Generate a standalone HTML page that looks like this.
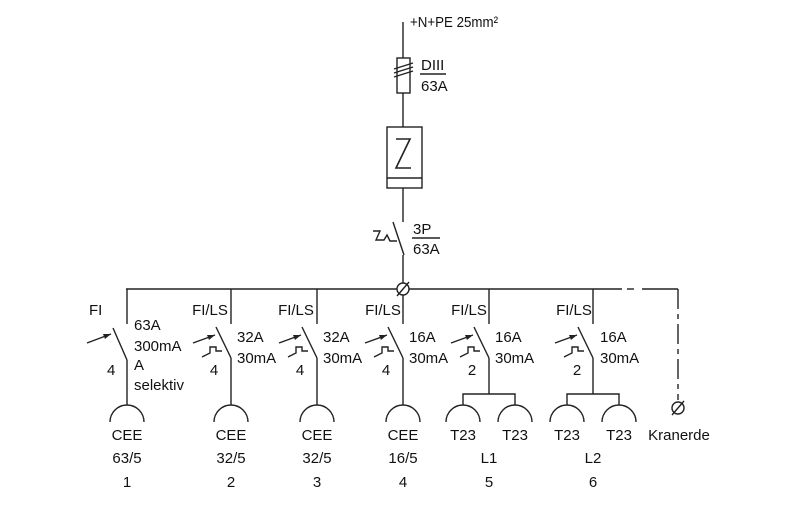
<!DOCTYPE html>
<html><head><meta charset="utf-8"><style>
html,body{margin:0;padding:0;background:#fff}
svg{display:block}
text{font-family:"Liberation Sans Narrow","Liberation Sans",sans-serif;font-size:15px;fill:#111}
</style></head><body>
<svg width="800" height="511" viewBox="0 0 800 511" xmlns="http://www.w3.org/2000/svg">
<g stroke="#222" stroke-width="1.4" fill="none">
<line x1="403" y1="22" x2="403" y2="58"/>
<rect x="397" y="58" width="13" height="35"/>
<line x1="394" y1="69" x2="413" y2="63"/>
<line x1="394" y1="73" x2="413" y2="67"/>
<line x1="394" y1="77" x2="413" y2="71"/>
<line x1="403" y1="93" x2="403" y2="127"/>
<rect x="387" y="127" width="35" height="61"/>
<line x1="387" y1="178" x2="422" y2="178"/>
<polyline points="396,139 410,139 396,168 411,168" stroke-width="1.6"/>
<line x1="403" y1="188" x2="403" y2="222"/>
<line x1="393" y1="222" x2="404" y2="255"/>
<line x1="403" y1="255" x2="403" y2="289"/>
<polyline points="373,231 380,231 376,240 384,240 387,235 390,241 397,241"/>
<line x1="420" y1="74" x2="446" y2="74"/>
<line x1="412" y1="238" x2="440" y2="238"/>
<line x1="126" y1="289" x2="622" y2="289"/>
<line x1="627" y1="289" x2="634" y2="289"/>
<line x1="642" y1="289" x2="678" y2="289"/>
<line x1="678" y1="289" x2="678" y2="400" stroke-dasharray="20,5,5,5"/>
<circle cx="403" cy="289" r="6" fill="#fff"/>
<line x1="397" y1="296" x2="409" y2="282"/>
<circle cx="678" cy="408" r="6"/>
<line x1="672" y1="415" x2="684" y2="401"/>
</g>
<g stroke="#222" stroke-width="1.4" fill="none">
<line x1="127" y1="289" x2="127" y2="324"/>
<line x1="113" y1="328" x2="127" y2="360"/>
<line x1="127" y1="360" x2="127" y2="405"/>
<line x1="87" y1="343" x2="111" y2="334"/>
<path d="M110,422 A17,17 0 0 1 144,422"/>
</g>
<g stroke="#222" stroke-width="1.4" fill="none">
<g transform="translate(231,0)">
<line x1="0" y1="289" x2="0" y2="324"/><line x1="-15" y1="327" x2="0" y2="358"/><line x1="0" y1="358" x2="0" y2="405"/>
<line x1="-38" y1="343" x2="-16" y2="335"/><polyline points="-29,357 -21,353 -21,347 -15,347 -15,351 -9,351"/>
<path d="M-17,422 A17,17 0 0 1 17,422"/></g>
<g transform="translate(317,0)">
<line x1="0" y1="289" x2="0" y2="324"/><line x1="-15" y1="327" x2="0" y2="358"/><line x1="0" y1="358" x2="0" y2="405"/>
<line x1="-38" y1="343" x2="-16" y2="335"/><polyline points="-29,357 -21,353 -21,347 -15,347 -15,351 -9,351"/>
<path d="M-17,422 A17,17 0 0 1 17,422"/></g>
<g transform="translate(403,0)">
<line x1="0" y1="295" x2="0" y2="324"/><line x1="-15" y1="327" x2="0" y2="358"/><line x1="0" y1="358" x2="0" y2="405"/>
<line x1="-38" y1="343" x2="-16" y2="335"/><polyline points="-29,357 -21,353 -21,347 -15,347 -15,351 -9,351"/>
<path d="M-17,422 A17,17 0 0 1 17,422"/></g>
<g transform="translate(489,0)">
<line x1="0" y1="289" x2="0" y2="324"/><line x1="-15" y1="327" x2="0" y2="358"/><line x1="0" y1="358" x2="0" y2="394"/>
<line x1="-38" y1="343" x2="-16" y2="335"/><polyline points="-29,357 -21,353 -21,347 -15,347 -15,351 -9,351"/>
<polyline points="-26,405 -26,394 26,394 26,405"/>
<path d="M-43,422 A17,17 0 0 1 -9,422"/><path d="M9,422 A17,17 0 0 1 43,422"/></g>
<g transform="translate(593,0)">
<line x1="0" y1="289" x2="0" y2="324"/><line x1="-15" y1="327" x2="0" y2="358"/><line x1="0" y1="358" x2="0" y2="394"/>
<line x1="-38" y1="343" x2="-16" y2="335"/><polyline points="-29,357 -21,353 -21,347 -15,347 -15,351 -9,351"/>
<polyline points="-26,405 -26,394 26,394 26,405"/>
<path d="M-43,422 A17,17 0 0 1 -9,422"/><path d="M9,422 A17,17 0 0 1 43,422"/></g>
</g>
<g fill="#222" stroke="none">
<polygon points="111,334 103,334 105,339"/>
<polygon points="215,335 207,335 209,340"/>
<polygon points="301,335 293,335 295,340"/>
<polygon points="387,335 379,335 381,340"/>
<polygon points="473,335 465,335 467,340"/>
<polygon points="577,335 569,335 571,340"/>
</g>
<text x="410" y="27" textLength="88" lengthAdjust="spacingAndGlyphs">+N+PE 25mm²</text>
<text x="421" y="70">DIII</text>
<text x="421" y="91">63A</text>
<text x="413" y="234">3P</text>
<text x="413" y="254">63A</text>
<text x="89" y="315">FI</text>
<text x="134" y="330">63A</text>
<text x="134" y="351">300mA</text>
<text x="134" y="370">A</text>
<text x="134" y="390">selektiv</text>
<text x="107" y="375">4</text>
<g text-anchor="middle">
<text x="210" y="315">FI/LS</text><text x="296" y="315">FI/LS</text><text x="383" y="315">FI/LS</text><text x="469" y="315">FI/LS</text><text x="574" y="315">FI/LS</text>
<text x="214" y="375">4</text><text x="300" y="375">4</text><text x="386" y="375">4</text><text x="472" y="375">2</text><text x="577" y="375">2</text>
<text x="127" y="440">CEE</text><text x="127" y="463">63/5</text><text x="127" y="487">1</text>
<text x="231" y="440">CEE</text><text x="231" y="463">32/5</text><text x="231" y="487">2</text>
<text x="317" y="440">CEE</text><text x="317" y="463">32/5</text><text x="317" y="487">3</text>
<text x="403" y="440">CEE</text><text x="403" y="463">16/5</text><text x="403" y="487">4</text>
<text x="463" y="440">T23</text><text x="515" y="440">T23</text><text x="489" y="463">L1</text><text x="489" y="487">5</text>
<text x="567" y="440">T23</text><text x="619" y="440">T23</text><text x="593" y="463">L2</text><text x="593" y="487">6</text>
<text x="679" y="440">Kranerde</text>
</g>
<g>
<text x="237" y="342">32A</text><text x="237" y="363">30mA</text>
<text x="323" y="342">32A</text><text x="323" y="363">30mA</text>
<text x="409" y="342">16A</text><text x="409" y="363">30mA</text>
<text x="495" y="342">16A</text><text x="495" y="363">30mA</text>
<text x="600" y="342">16A</text><text x="600" y="363">30mA</text>
</g>
</svg>
</body></html>
